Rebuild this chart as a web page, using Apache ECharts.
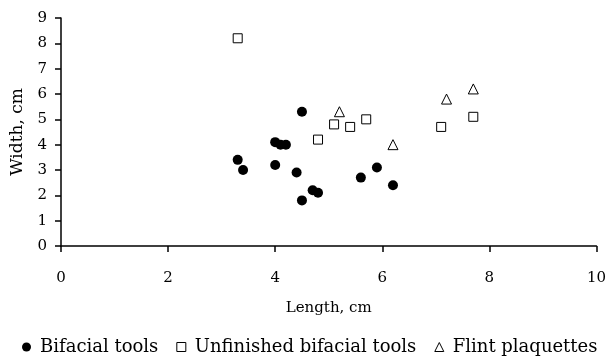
<!DOCTYPE html>
<html><head><meta charset="utf-8">
<script src="https://cdn.jsdelivr.net/npm/echarts@6/dist/echarts.min.js"></script>
<style>html,body{margin:0;padding:0;background:#fff}#c{width:609px;height:360px}</style>
</head><body><div id="c"></div>
<script>
const bifacial = [[3.3,3.4],[3.4,3.0],[4.0,3.2],[4.0,4.1],[4.1,4.0],[4.2,4.0],[4.5,5.3],[4.4,2.9],[4.5,1.8],[4.7,2.2],[4.8,2.1],[5.6,2.7],[5.9,3.1],[6.2,2.4]];
const unfinished = [[3.3,8.2],[4.8,4.2],[5.1,4.8],[5.4,4.7],[5.7,5.0],[7.1,4.7],[7.7,5.1]];
const plaquettes = [[5.2,5.3],[6.2,4.0],[7.2,5.8],[7.7,6.2]];
const seriesNames = ['Bifacial tools','Unfinished bifacial tools','Flint plaquettes'];
const FONT = 'DejaVu Serif';
const chart = echarts.init(document.getElementById('c'));
chart.setOption({
  animation:false,
  textStyle:{fontFamily:FONT,color:'#000'},
  grid:{left:61,right:12,top:18,bottom:114},
  xAxis:{type:'value',min:0,max:10,interval:2,
    name:'Length, cm',nameLocation:'middle',nameGap:55,nameTextStyle:{fontFamily:FONT,fontSize:15,color:'#000'},
    axisLine:{lineStyle:{color:'#000',width:1.5}},
    axisTick:{show:true,length:6,lineStyle:{color:'#000',width:1.5}},
    axisLabel:{margin:25,fontFamily:FONT,fontSize:15,color:'#000'},
    splitLine:{show:false}},
  yAxis:{type:'value',min:0,max:9,interval:1,
    name:'Width, cm',nameLocation:'middle',nameGap:29,nameTextStyle:{fontFamily:FONT,fontSize:17,color:'#000'},
    axisLine:{show:true,lineStyle:{color:'#000',width:1.5}},
    axisTick:{show:true,length:6,lineStyle:{color:'#000',width:1.5}},
    axisLabel:{margin:14,fontFamily:FONT,fontSize:15,color:'#000'},
    splitLine:{show:false}},
  legend:{top:338,left:22,padding:0,itemWidth:9,itemHeight:9,itemGap:18,
    itemStyle:{borderWidth:1},
    textStyle:{fontFamily:FONT,fontSize:18,color:'#000',padding:[0,0,0,4]},
    data:seriesNames},
  series:[
    {name:seriesNames[0],type:'scatter',data:bifacial,symbol:'circle',symbolSize:10,itemStyle:{color:'#000',opacity:1}},
    {name:seriesNames[1],type:'scatter',data:unfinished,symbol:'rect',symbolSize:9,itemStyle:{color:'#fff',borderColor:'#000',borderWidth:1,opacity:1}},
    {name:seriesNames[2],type:'scatter',data:plaquettes,symbol:'triangle',symbolSize:10,itemStyle:{color:'#fff',borderColor:'#000',borderWidth:1,opacity:1}}
  ]
});
</script></body></html>
